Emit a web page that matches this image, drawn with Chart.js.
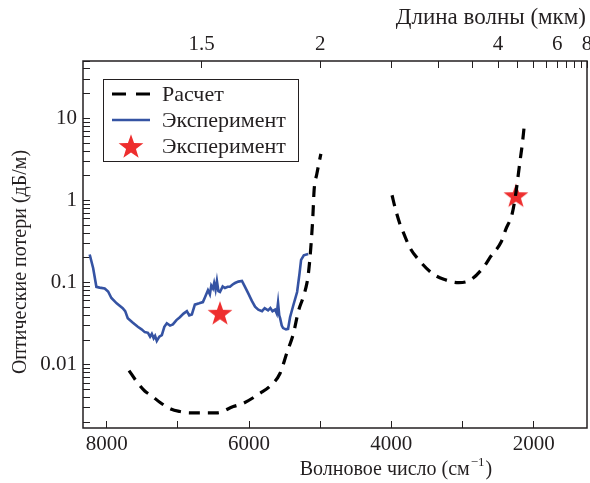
<!DOCTYPE html>
<html>
<head>
<meta charset="utf-8">
<script src="https://cdn.jsdelivr.net/npm/chart.js@4/dist/chart.umd.min.js"></script>
<style>
  html, body { margin: 0; padding: 0; background: #fff; }
  canvas { display: block; }
</style>
</head>
<body>
<canvas id="lossChart" width="590" height="483"></canvas>
<script>
// ── Data (wavenumber, cm^-1 ; loss, dB/m) ─────────────────────
const calcLeftWn   = [7686, 7582, 7465, 7370, 7254, 7100, 6972, 6831, 6596, 6455, 6221, 6080, 5845, 5704, 5563, 5469, 5376, 5306, 5235, 5187, 5165, 5131, 5103, 5085, 5047, 4990];
const calcLeftLoss = [0.0085, 0.0063, 0.0048, 0.0042, 0.0035, 0.0029, 0.0027, 0.0026, 0.0026, 0.0026, 0.0031, 0.0034, 0.0045, 0.0055, 0.0079, 0.0139, 0.024, 0.045, 0.068, 0.098, 0.13, 0.27, 0.63, 1.34, 2.1, 3.7];

const calcRightWn   = [3990, 3944, 3873, 3827, 3732, 3615, 3427, 3263, 3052, 2887, 2700, 2606, 2455, 2394, 2300, 2254, 2193, 2159, 2136];
const calcRightLoss = [1.16, 0.80, 0.50, 0.40, 0.26, 0.19, 0.13, 0.11, 0.10, 0.108, 0.156, 0.207, 0.315, 0.44, 0.70, 1.16, 2.95, 4.9, 7.5];

const expWn = [8239, 8190, 8145, 8100, 8028, 7980, 7934, 7860, 7775, 7740, 7704, 7640, 7563, 7510, 7465, 7420, 7390, 7366, 7340, 7320, 7296, 7260, 7225, 7190, 7155, 7110, 7070, 7020, 6972, 6920, 6873, 6840, 6803, 6761, 6700, 6648, 6620, 6577, 6550, 6530, 6507, 6490, 6470, 6451, 6430, 6408, 6370, 6338, 6300, 6268, 6230, 6197, 6150, 6099, 6060, 6014, 5960, 5915, 5870, 5817, 5780, 5732, 5700, 5670, 5634, 5610, 5592, 5575, 5563, 5540, 5521, 5480, 5451, 5423, 5380, 5324, 5290, 5268, 5230, 5169];
const expLoss = [0.22, 0.15, 0.089, 0.087, 0.085, 0.078, 0.065, 0.056, 0.049, 0.045, 0.037, 0.033, 0.029, 0.027, 0.025, 0.0245, 0.022, 0.0238, 0.021, 0.0225, 0.0195, 0.022, 0.023, 0.029, 0.032, 0.030, 0.031, 0.035, 0.038, 0.042, 0.045, 0.040, 0.041, 0.054, 0.056, 0.058, 0.066, 0.081, 0.072, 0.092, 0.085, 0.099, 0.082, 0.105, 0.079, 0.077, 0.090, 0.086, 0.089, 0.089, 0.095, 0.099, 0.103, 0.105, 0.090, 0.075, 0.060, 0.051, 0.047, 0.045, 0.049, 0.046, 0.049, 0.045, 0.047, 0.042, 0.057, 0.040, 0.037, 0.030, 0.028, 0.027, 0.0274, 0.038, 0.052, 0.077, 0.13, 0.189, 0.215, 0.223];

const starWn   = [6408, 2249];
const starLoss = [0.043, 1.16];

// ── Axes ───────────────────────────────────────────────────────
const xMin = 1250, xMax = 8333;
const yMin = 0.0017, yMax = 50;
const xTicks = [8000, 7000, 6000, 5000, 4000, 3000, 2000];
const xTickLabels = [8000, 6000, 4000, 2000];
const yTickLabels = [0.01, 0.1, 1, 10];
const topTicks = [1.5, 2, 2.5, 3, 3.5, 4, 4.5, 5, 5.5, 6, 6.5, 7, 7.5, 8];   // мкм
const topTickLabels = [1.5, 2, 4, 6, 8];

const INK = '#231f20';
const BLUE = '#3553a3';
const RED = '#ee2e2e';
const FONT = "'Liberation Serif', 'Times New Roman', serif";

Chart.defaults.font.family = FONT;
Chart.defaults.font.size = 21;
Chart.defaults.color = INK;

const pts = (xs, ys) => xs.map((x, i) => ({ x, y: ys[i] }));

function yTickValues() {
  const out = [];
  for (let e = -3; e <= 1; e++) {
    for (let m = 1; m <= 9; m++) {
      const v = +(m * Math.pow(10, e)).toPrecision(6);
      if (v >= yMin && v <= yMax) out.push(v);
    }
  }
  return out;
}

// filled five-point star for point style
function makeStar(r, color) {
  const c = document.createElement('canvas');
  c.width = c.height = Math.ceil(r * 2 + 2);
  const g = c.getContext('2d');
  const cx = c.width / 2, cy = c.height / 2 + r * 0.1;
  g.beginPath();
  for (let i = 0; i < 10; i++) {
    const rad = i % 2 ? r * 0.4 : r;
    const a = -Math.PI / 2 + i * Math.PI / 5;
    g.lineTo(cx + rad * Math.cos(a), cy + rad * Math.sin(a));
  }
  g.closePath();
  g.fillStyle = color;
  g.fill();
  return c;
}
const starImg = makeStar(13, RED);

// ── Frame, legend and axis titles ──────────────────────────────
const decorPlugin = {
  id: 'decor',
  afterDraw(chart) {
    const { ctx, chartArea: a } = chart;
    const ds = chart.data.datasets;
    ctx.save();
    ctx.strokeStyle = INK;
    ctx.lineWidth = 1.5;
    ctx.strokeRect(a.left, a.top, a.right - a.left, a.bottom - a.top);

    // legend box
    ctx.lineWidth = 1;
    ctx.strokeRect(103.5, 79.5, 195, 82);
    ctx.font = '22px ' + FONT;
    ctx.fillStyle = INK;
    ctx.textBaseline = 'middle';
    ctx.textAlign = 'left';
    const rows = [{ i: 0, y: 94 }, { i: 2, y: 120 }, { i: 3, y: 146 }];
    rows.forEach(r => {
      const d = ds[r.i];
      if (d.showLine === false) {
        ctx.drawImage(starImg, 131 - starImg.width / 2, r.y - starImg.height / 2);
      } else {
        ctx.save();
        ctx.strokeStyle = d.borderColor;
        ctx.lineWidth = d.borderWidth;
        ctx.setLineDash(d.borderDash.length ? [14, 10] : []);
        ctx.beginPath();
        ctx.moveTo(112, r.y);
        ctx.lineTo(150, r.y);
        ctx.stroke();
        ctx.restore();
      }
      ctx.fillText(d.label, 162, r.y + 1);
    });

    // y title
    ctx.save();
    ctx.font = '20px ' + FONT;
    ctx.translate(21, 262);
    ctx.rotate(-Math.PI / 2);
    ctx.textAlign = 'center';
    ctx.fillText('Оптические потери (дБ/м)', 0, 0);
    ctx.restore();

    // bottom title with superscript
    const t1 = 'Волновое число (см', sup = '−1', t2 = ')';
    ctx.font = '20px ' + FONT;
    const w1 = ctx.measureText(t1).width, w3 = ctx.measureText(t2).width;
    ctx.font = '13px ' + FONT;
    const w2 = ctx.measureText(sup).width;
    let x = 395 - (w1 + w2 + w3) / 2;
    ctx.textAlign = 'left';
    ctx.font = '20px ' + FONT;
    ctx.fillText(t1, x, 470);
    ctx.font = '13px ' + FONT;
    ctx.fillText(sup, x + w1 + 1, 463);
    ctx.font = '20px ' + FONT;
    ctx.fillText(t2, x + w1 + w2 + 2, 470);

    // top title
    ctx.font = '23px ' + FONT;
    ctx.textAlign = 'right';
    ctx.fillText('Длина волны (мкм)', 586, 18);
    ctx.restore();
  }
};

// ── Chart ──────────────────────────────────────────────────────
const lineDs = (label, data, color, dash, width) => ({
  label, data, borderColor: color, borderWidth: width, borderDash: dash,
  pointRadius: 0, fill: false, tension: 0
});

// fixed box sizes, no extra padding for edge labels
const fixSize = (prop, size) => s => {
  s[prop] = size;
  s.paddingLeft = s.paddingRight = s.paddingTop = s.paddingBottom = 0;
};

new Chart(document.getElementById('lossChart'), {
  type: 'line',
  data: {
    datasets: [
      { ...lineDs('Расчет', pts(calcLeftWn, calcLeftLoss), '#000', [11, 8], 3.2), cubicInterpolationMode: 'monotone' },
      { ...lineDs('Расчет', pts(calcRightWn, calcRightLoss), '#000', [11, 8], 3.2), cubicInterpolationMode: 'monotone' },
      lineDs('Эксперимент', pts(expWn, expLoss), BLUE, [], 2.6),
      { label: 'Эксперимент', data: pts(starWn, starLoss), showLine: false,
        pointStyle: starImg, pointRadius: 13, borderColor: RED, backgroundColor: RED }
    ]
  },
  options: {
    responsive: false, animation: false,
    layout: { autoPadding: false, padding: { left: 0, right: 3, top: 0, bottom: 0 } },
    plugins: { legend: { display: false }, tooltip: { enabled: false } },
    scales: {
      x: {
        type: 'linear', position: 'bottom', reverse: true, min: xMin, max: xMax,
        afterBuildTicks: s => { s.ticks = xTicks.map(v => ({ value: v })); },
        afterFit: fixSize('height', 55),
        ticks: { autoSkip: false, maxRotation: 0, padding: 11,
          callback: v => xTickLabels.includes(v) ? String(v) : '' },
        grid: { drawOnChartArea: false, tickLength: -7, color: INK, lineWidth: 1 },
        border: { display: false }
      },
      x2: {
        type: 'linear', position: 'top', reverse: true, min: xMin, max: xMax,
        afterBuildTicks: s => { s.ticks = topTicks.map(l => ({ value: 10000 / l })); },
        afterFit: fixSize('height', 61),
        ticks: { autoSkip: false, maxRotation: 0, padding: 11,
          callback: v => {
            const l = 10000 / v;
            const hit = topTickLabels.find(t => Math.abs(t - l) < 1e-6);
            return hit !== undefined ? String(hit) : '';
          } },
        grid: { drawOnChartArea: false, tickLength: -7, color: INK, lineWidth: 1 },
        border: { display: false }
      },
      y: {
        type: 'logarithmic', position: 'left', min: yMin, max: yMax,
        afterBuildTicks: s => { s.ticks = yTickValues().map(v => ({ value: v })); },
        afterFit: fixSize('width', 83),
        ticks: { autoSkip: false, padding: 13,
          callback: v => yTickLabels.find(t => Math.abs(t - v) < 1e-9) !== undefined ? String(v) : '' },
        grid: { drawOnChartArea: false, tickLength: -7, color: INK, lineWidth: 1 },
        border: { display: false }
      }
    }
  },
  plugins: [decorPlugin]
});
</script>
</body>
</html>
